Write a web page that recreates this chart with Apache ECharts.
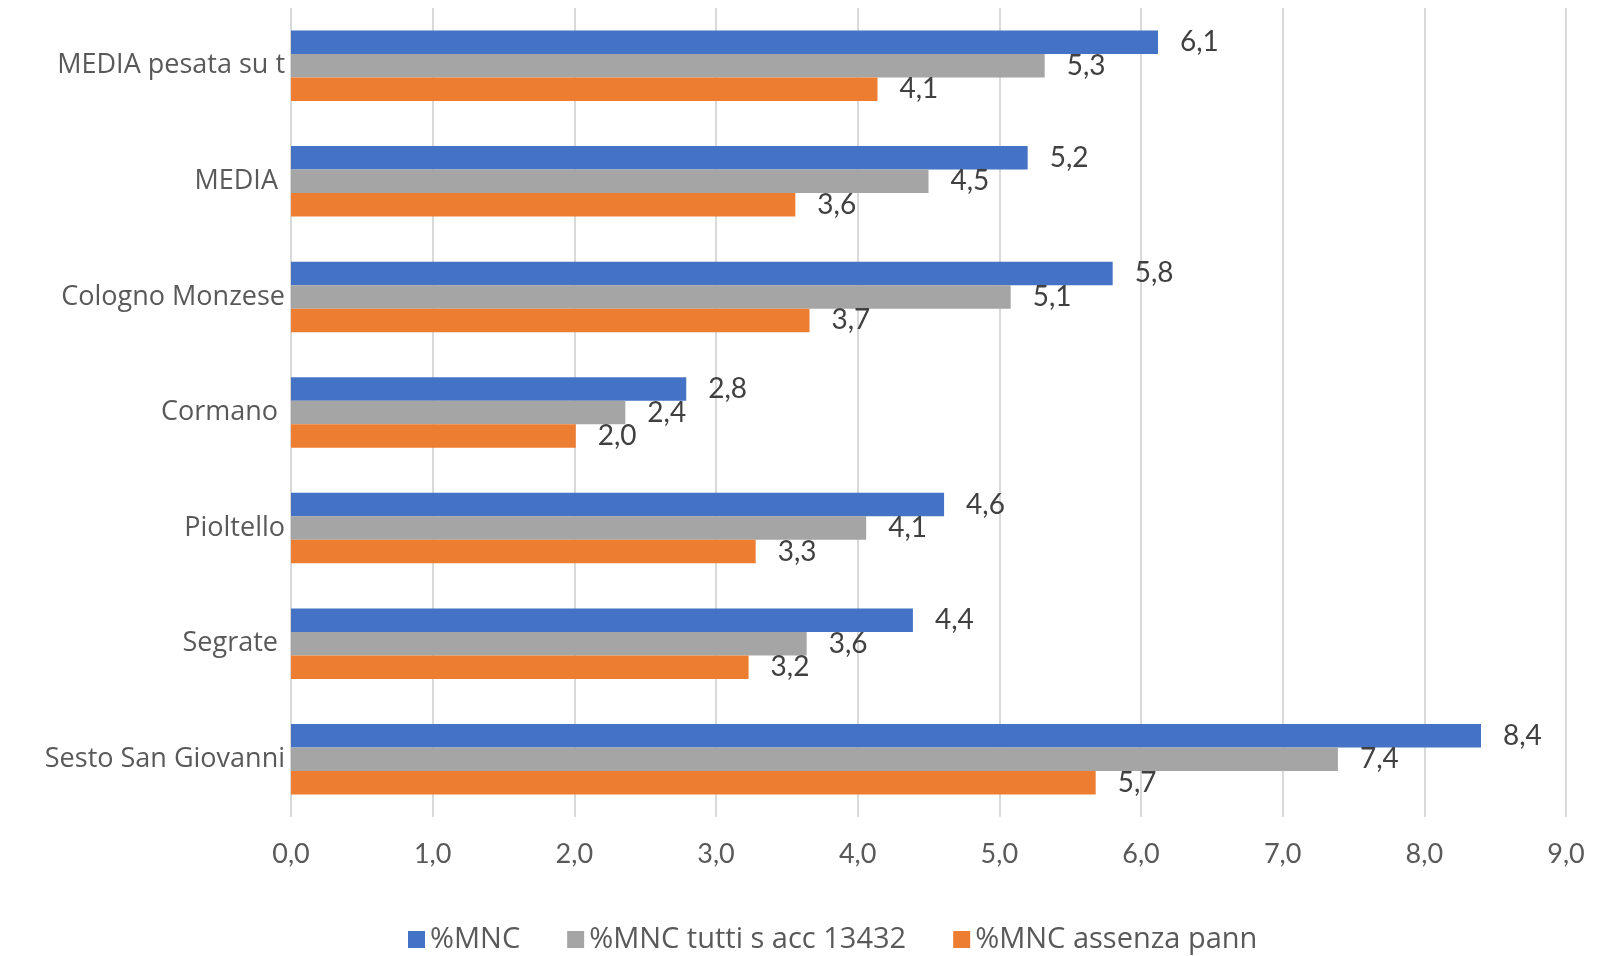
<!DOCTYPE html>
<html>
<head>
<meta charset="utf-8">
<script src="https://cdn.jsdelivr.net/npm/echarts@6/dist/echarts.min.js"></script>
<style>
  html, body { margin: 0; padding: 0; background: #ffffff; }
  #chart { width: 1599px; height: 956px; }
</style>
</head>
<body>
<div id="chart"></div>
<script>
// Municipalities, listed top to bottom
const categories = [
  'MEDIA pesata su t',
  'MEDIA ',
  'Cologno Monzese',
  'Cormano ',
  'Pioltello',
  'Segrate ',
  'Sesto San Giovanni'
];

const seriesNames = ['%MNC', '%MNC tutti s acc 13432', '%MNC assenza pann'];

const mnc         = [6.12, 5.20, 5.80, 2.79, 4.61, 4.39, 8.40];
const mncTutti    = [5.32, 4.50, 5.08, 2.36, 4.06, 3.64, 7.39];
const mncAssenza  = [4.14, 3.56, 3.66, 2.01, 3.28, 3.23, 5.68];

const xTicks = { min: 0, max: 9, interval: 1 };

const colors = ['#4472C4', '#A5A5A5', '#ED7D31'];
const NUM_FONT = 'Lato, "Open Sans", sans-serif';
const TEXT_FONT = '"Open Sans", Lato, sans-serif';

const fmt = v => v.toFixed(1).replace('.', ',');

function barSeries(name, data, color) {
  return {
    name: name,
    type: 'bar',
    data: data,
    barGap: '0%',
    barCategoryGap: '39%',
    itemStyle: { color: color },
    label: {
      show: true,
      position: 'right',
      distance: 22,
      color: '#404040',
      fontFamily: NUM_FONT,
      fontSize: 28,
      formatter: p => fmt(p.value)
    }
  };
}

const chart = echarts.init(document.getElementById('chart'));
chart.setOption({
  backgroundColor: '#ffffff',
  animation: false,
  color: colors,
  grid: { left: 291, right: 33, top: 8, bottom: 139, containLabel: false },
  legend: {
    data: seriesNames,
    left: 403,
    top: 920,
    itemWidth: 17,
    itemHeight: 17,
    itemGap: 47,
    icon: 'rect',
    textStyle: { color: '#595959', fontFamily: TEXT_FONT, fontSize: 29 }
  },
  xAxis: {
    type: 'value',
    min: xTicks.min,
    max: xTicks.max,
    interval: xTicks.interval,
    axisLine: { show: false },
    axisTick: { show: false },
    splitLine: { show: true, lineStyle: { color: '#D9D9D9', width: 2 } },
    axisLabel: {
      color: '#595959',
      fontFamily: NUM_FONT,
      fontSize: 27,
      margin: 24,
      formatter: v => fmt(v)
    }
  },
  yAxis: {
    type: 'category',
    data: categories,
    inverse: true,
    axisLine: { show: false },
    axisTick: { show: false },
    axisLabel: {
      color: '#595959',
      fontFamily: TEXT_FONT,
      fontSize: 27,
      margin: 6
    }
  },
  series: [
    barSeries(seriesNames[0], mnc, colors[0]),
    barSeries(seriesNames[1], mncTutti, colors[1]),
    barSeries(seriesNames[2], mncAssenza, colors[2])
  ]
});
</script>
</body>
</html>
